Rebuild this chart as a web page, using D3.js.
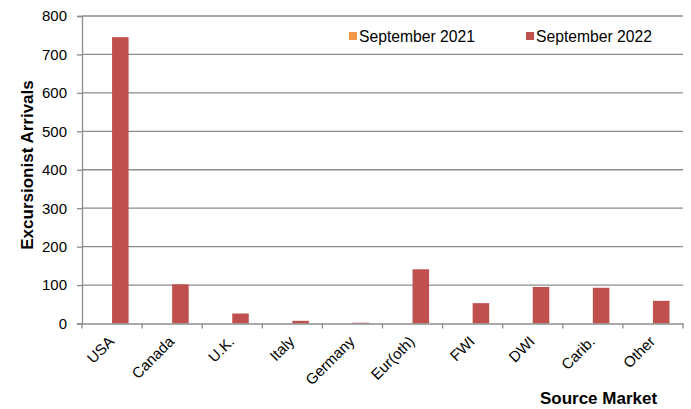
<!DOCTYPE html>
<html>
<head>
<meta charset="utf-8">
<script src="https://cdn.jsdelivr.net/npm/d3@7"></script>
<style>
  body { margin: 0; background: #fff; }
  text { font-family: "Liberation Sans", Arial, sans-serif; fill: #000; }
</style>
</head>
<body>
<script>
// data
const markets = ['USA', 'Canada', 'U.K.', 'Italy', 'Germany', 'Eur(oth)', 'FWI', 'DWI', 'Carib.', 'Other']
const sep2021 = [0, 0, 0, 0, 0, 0, 0, 0, 0, 0]
const sep2022 = [745, 102, 26, 7, 2, 141, 53, 95, 93, 59]
const seriesNames = ['September 2021', 'September 2022']
const yTicks = [0, 100, 200, 300, 400, 500, 600, 700, 800]

const width = 691
const height = 409
const margin = {top: 16, right: 8, bottom: 85, left: 82}
const colors = ['#F79646', '#C0504D']

const svg = d3.select('body').append('svg')
  .attr('width', width)
  .attr('height', height)

const chart = svg.append('g')
  .attr('transform', `translate(${margin.left}, ${margin.top})`)

const w = width - margin.left - margin.right
const h = 323.5 - margin.top

const xScale = d3.scaleBand()
  .domain(markets)
  .range([0, w])
  .paddingInner(0)
  .paddingOuter(0)

const inner = d3.scaleBand()
  .domain(seriesNames)
  .range([xScale.bandwidth() * 0.225, xScale.bandwidth() * 0.775])

const yScale = d3.scaleLinear()
  .domain([0, 800])
  .range([h, 0])

// gridlines
chart.append('g').selectAll('line')
  .data(yTicks.filter(t => t > 0))
  .enter()
  .append('line')
  .attr('x1', 0)
  .attr('x2', w)
  .attr('y1', d => yScale(d))
  .attr('y2', d => yScale(d))
  .attr('stroke', '#8c8c8c')
  .attr('stroke-width', 1.3)

// bars
const rows = markets.map((m, i) => ({market: m, vals: [sep2021[i], sep2022[i]]}))
const groups = chart.selectAll('.grp')
  .data(rows)
  .enter()
  .append('g')
  .attr('transform', d => `translate(${xScale(d.market)}, 0)`)

groups.selectAll('rect')
  .data(d => d.vals.map((v, j) => ({name: seriesNames[j], v: v, c: colors[j]})))
  .enter()
  .append('rect')
  .attr('x', d => inner(d.name))
  .attr('width', inner.bandwidth())
  .attr('y', d => yScale(d.v))
  .attr('height', d => h - yScale(d.v))
  .attr('fill', d => d.c)

// y axis
const yAxis = d3.axisLeft(yScale).tickValues(yTicks).tickSize(5).tickPadding(10)
const yg = chart.append('g').call(yAxis)
yg.select('.domain').attr('stroke', '#8c8c8c').attr('stroke-width', 1.3)
yg.selectAll('.tick line').attr('stroke', '#8c8c8c').attr('stroke-width', 1.3)
yg.selectAll('.tick text').style('font-size', '15px').attr('fill', '#000')

// x axis
const xAxis = d3.axisBottom(xScale).tickSize(0).tickFormat('')
const xg = chart.append('g').attr('transform', `translate(0, ${h})`).call(xAxis)
xg.select('.domain').attr('stroke', '#8c8c8c').attr('stroke-width', 1.3)

// boundary ticks
chart.append('g').selectAll('line')
  .data(d3.range(markets.length + 1))
  .enter()
  .append('line')
  .attr('x1', d => d * xScale.step())
  .attr('x2', d => d * xScale.step())
  .attr('y1', h)
  .attr('y2', h + 5)
  .attr('stroke', '#8c8c8c')
  .attr('stroke-width', 1.3)

// category labels
chart.append('g').selectAll('text')
  .data(markets)
  .enter()
  .append('text')
  .attr('transform', d => `translate(${xScale(d) + xScale.bandwidth() / 2 + 3}, ${h + 19}) rotate(-45)`)
  .attr('text-anchor', 'end')
  .style('font-size', '15px')
  .text(d => d)

// axis titles
svg.append('text')
  .attr('transform', `translate(33, 165) rotate(-90)`)
  .attr('text-anchor', 'middle')
  .style('font-size', '17px')
  .style('font-weight', 'bold')
  .text('Excursionist Arrivals')

svg.append('text')
  .attr('x', 598.5)
  .attr('y', 404)
  .attr('text-anchor', 'middle')
  .style('font-size', '17px')
  .style('font-weight', 'bold')
  .text('Source Market')

// legend
const legendX = [349, 526]
const legend = svg.append('g').selectAll('g')
  .data(seriesNames)
  .enter()
  .append('g')
  .attr('transform', (d, i) => `translate(${legendX[i]}, 32)`)

legend.append('rect')
  .attr('width', 8)
  .attr('height', 8)
  .attr('fill', (d, i) => colors[i])

legend.append('text')
  .attr('x', 10)
  .attr('y', 9.5)
  .style('font-size', '15.7px')
  .text(d => d)
</script>
</body>
</html>
